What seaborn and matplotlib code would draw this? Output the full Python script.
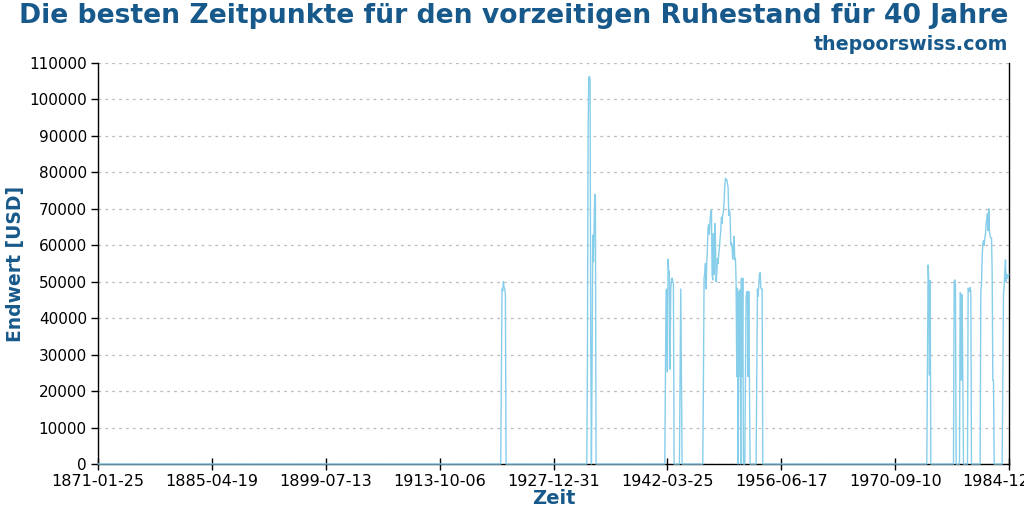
import numpy as np
import pandas as pd
import matplotlib
matplotlib.use("Agg")
import matplotlib.pyplot as plt
import seaborn as sns

# ---- data -------------------------------------------------------------
title = "Die besten Zeitpunkte für den vorzeitigen Ruhestand für 40 Jahre"
subtitle = "thepoorswiss.com"
x_label = "Zeit"
y_label = "Endwert [USD]"

start_month = "1871-01-25"
n_months = 1367  # 1871-01 .. 1984-11

x_tick_labels = ["1871-01-25", "1885-04-19", "1899-07-13", "1913-10-06",
                 "1927-12-31", "1942-03-25", "1956-06-17", "1970-09-10",
                 "1984-12-02"]
y_ticks = [0, 10000, 20000, 30000, 40000, 50000, 60000, 70000, 80000,
           90000, 100000, 110000]

# non-zero episodes (start month, monthly end values); all other months are 0
seg_1921 = [24000, 48000, 47500, 50000, 48500, 48000, 46500]
seg_1932 = [25000, 89000, 106000, 106300, 105600, 33000, 0, 27000, 62800,
            55500, 64700, 74000, 72000]
seg_1941 = [24000, 47700, 48000, 25300, 56200, 52800, 52800, 26000, 48300,
            49600, 51000, 50000, 49600]
seg_1943 = [24000, 48000, 24000]
seg_1946 = [23500, 51000, 52500, 55000, 48000, 55300, 59000, 65000, 65700, 63000,
            67000, 69200, 69700, 52000, 50500, 63200, 52000, 66000, 61400, 50000,
            52000, 56400, 55000, 57500, 59300, 62000, 64000, 67700, 66000, 68600,
            69100, 72000, 76000, 78400, 78000, 78000, 77000, 75800, 68200, 69700,
            68000, 60100, 60600, 59300, 56200, 59800, 62500, 56000, 56400, 50000,
            24000, 48200, 0, 47300, 24000, 47800, 0, 50900, 24000, 51000]
seg_1951 = [23300, 46000, 47300, 47300, 24000, 47300, 23500]
seg_1953 = [23500, 48000, 46000, 49000, 52000, 52500, 48500, 48000, 48000]
seg_1974 = [27200, 54600, 49600, 24400, 50300]
seg_1978a = [50000, 50500, 49000]
seg_1978b = [47000, 46800, 23000, 46400, 23000]
seg_1979 = [48200, 47500, 47300, 48400, 47300]
seg_1981 = [47600, 49000, 56600, 60400, 61300, 60000, 62000, 63200, 66100, 67300,
            68700, 64000, 70000, 63800, 62400, 62000, 62000, 52800, 22900, 22900]
seg_1984 = [23200, 46600, 49000, 53000, 56000, 50000, 52000, 51000, 51500, 52000]

segments = [("1921-06", seg_1921), ("1932-03", seg_1932), ("1941-12", seg_1941),
            ("1943-10", seg_1943), ("1946-09", seg_1946), ("1951-12", seg_1951),
            ("1953-05", seg_1953), ("1974-09", seg_1974), ("1978-01", seg_1978a),
            ("1978-10", seg_1978b), ("1979-10", seg_1979), ("1981-05", seg_1981),
            ("1984-02", seg_1984)]

# ---- build series -----------------------------------------------------
dates = pd.date_range(start_month, periods=n_months, freq=pd.DateOffset(months=1))
values = np.zeros(n_months)
for ym, seg in segments:
    y, m = map(int, ym.split("-"))
    i0 = (y - 1871) * 12 + (m - 1)
    values[i0:i0 + len(seg)] = seg
df = pd.DataFrame({"Zeit": dates, "Endwert": values})

# ---- plot -------------------------------------------------------------
sns.set_theme(style="ticks")
plt.rcParams["font.family"] = ["DejaVu Sans"]
title_color = "#17598a"

fig = plt.figure(figsize=(10.24, 5.12), dpi=100)
ax = fig.add_axes([98 / 1024, 1 - 464 / 512, (1009 - 98) / 1024, (464 - 63) / 512])

sns.lineplot(data=df, x="Zeit", y="Endwert", color="#87ceeb", linewidth=1.0,
             ax=ax, zorder=3)
for ln in ax.lines:
    ln.set_clip_on(False)

tick_dates = pd.to_datetime(x_tick_labels)
ax.set_xlim(tick_dates[0], tick_dates[-1])
ax.set_xticks(tick_dates)
ax.set_xticklabels(x_tick_labels, fontsize=11.5, color="black")
ax.set_ylim(0, 110000)
ax.set_yticks(y_ticks)
ax.set_yticklabels([str(v) for v in y_ticks], fontsize=11, color="black")

ax.yaxis.grid(True, color="#bbbbbb", linestyle=(0, (2.2, 3.3)), linewidth=0.9)
ax.xaxis.grid(False)
ax.set_axisbelow(True)

for s in ["left", "bottom", "right"]:
    ax.spines[s].set_color("black")
    ax.spines[s].set_linewidth(1.0)
ax.spines["top"].set_visible(False)
ax.tick_params(axis="x", direction="inout", length=8, width=1.0, color="black", pad=3)
ax.tick_params(axis="y", direction="out", length=5, width=1.0, color="black", pad=3)

ax.set_xlabel(x_label, fontsize=14, fontweight="bold", color=title_color, labelpad=0)
ax.set_ylabel(y_label, fontsize=13.5, fontweight="bold", color=title_color)
ax.yaxis.set_label_coords(-0.080, 0.5)

fig.text(1008 / 1024, 1 - 16 / 512, title, ha="right", va="center",
         fontsize=19.2, fontweight="bold", color=title_color)
fig.text(1008 / 1024, 1 - 45 / 512, subtitle, ha="right", va="center",
         fontsize=13.7, fontweight="bold", color=title_color)

fig.savefig("out.png", dpi=100)
